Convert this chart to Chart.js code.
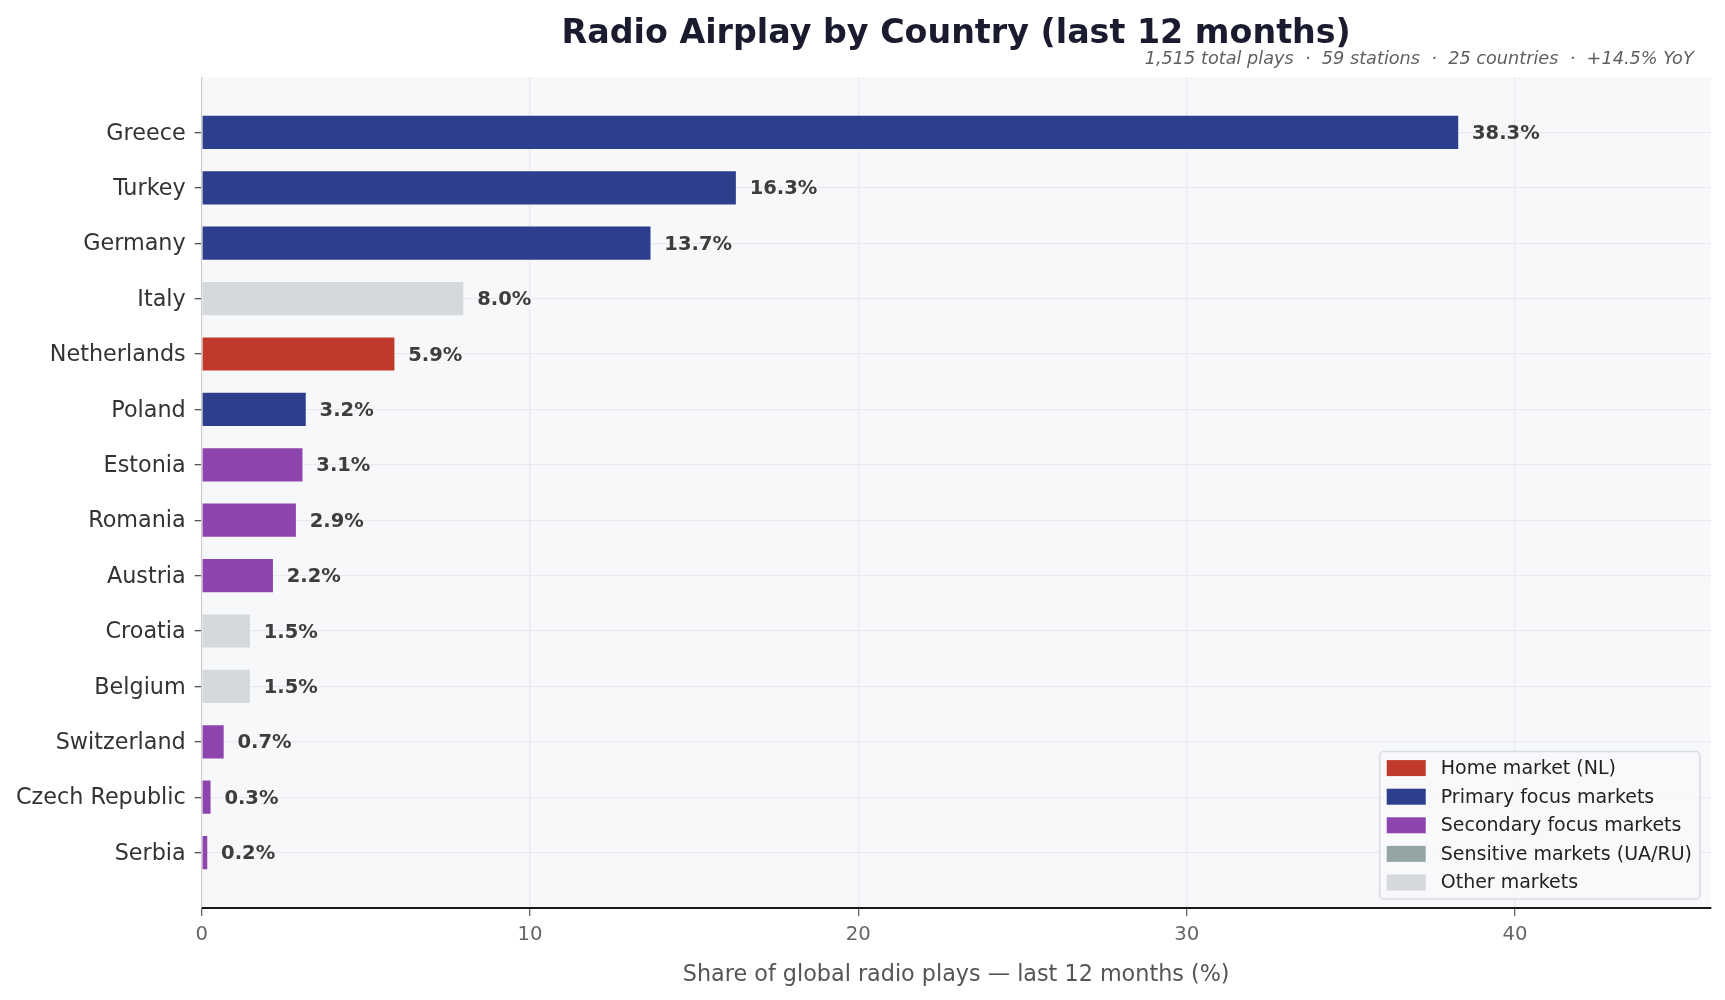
<!DOCTYPE html>
<html><head><meta charset="utf-8">
<script src="https://cdn.jsdelivr.net/npm/chart.js@4.4.1/dist/chart.umd.min.js"></script>
<style>html,body{margin:0;padding:0;background:#fff}#wrap{width:1725px;height:1000px}</style>
</head><body><div id="wrap"><canvas id="c" width="1725" height="1000"></canvas></div>
<script>
// ---- data ----
const countries = ['Greece','Turkey','Germany','Italy','Netherlands','Poland','Estonia','Romania','Austria','Croatia','Belgium','Switzerland','Czech Republic','Serbia'];
const shares = [38.3, 16.3, 13.7, 8.0, 5.9, 3.2, 3.1, 2.9, 2.2, 1.5, 1.5, 0.7, 0.3, 0.2];
const marketGroups = ['primary','primary','primary','other','home','primary','secondary','secondary','secondary','other','other','secondary','secondary','secondary'];
const legendGroups = ['home','primary','secondary','sensitive','other'];
const legendLabels = ['Home market (NL)','Primary focus markets','Secondary focus markets','Sensitive markets (UA/RU)','Other markets'];
const xTicks = [0, 10, 20, 30, 40];
const titleText = 'Radio Airplay by Country (last 12 months)';
const subtitleText = '1,515 total plays  \u00b7  59 stations  \u00b7  25 countries  \u00b7  +14.5% YoY';
const xTitle = 'Share of global radio plays \u2014 last 12 months (%)';

// ---- style ----
const groupColors = {home:'#c0392b', primary:'#2c3e8c', secondary:'#8e44ad', sensitive:'#95a5a6', other:'#d5d8dc'};
const FONT = "'DejaVu Sans', sans-serif";
const xMax = Math.max(...shares) * 1.2;

const bgPlugin = {
  id:'bg',
  beforeDraw(chart){
    const {ctx, chartArea:a} = chart;
    ctx.save();
    ctx.fillStyle = '#ffffff';
    ctx.fillRect(0,0,chart.width,chart.height);
    ctx.fillStyle = '#f7f8fa';
    ctx.fillRect(a.left, a.top, a.right-a.left, a.bottom-a.top);
    ctx.restore();
  }
};

const labelPlugin = {
  id:'vlabels',
  afterDatasetsDraw(chart){
    const {ctx} = chart;
    const meta = chart.getDatasetMeta(0);
    ctx.save();
    ctx.font = "bold 19.5px " + FONT;
    ctx.fillStyle = '#3d3d3d';
    ctx.textAlign = 'left';
    ctx.textBaseline = 'middle';
    meta.data.forEach((bar, i) => {
      const x = chart.scales.x.getPixelForValue(shares[i] + xMax*0.0085);
      ctx.fillText(shares[i].toFixed(1) + '%', x, bar.y + 1.5);
    });
    ctx.restore();
  }
};

const titlePlugin = {
  id:'titles',
  afterDraw(chart){
    const {ctx, chartArea:a} = chart;
    ctx.save();
    ctx.textBaseline = 'alphabetic';
    ctx.font = "bold 33.3px " + FONT;
    ctx.fillStyle = '#1b1b2f';
    ctx.textAlign = 'center';
    ctx.fillText(titleText, (a.left+a.right)/2, 42.7);
    ctx.font = "italic 17.7px " + FONT;
    ctx.fillStyle = '#5f5f5f';
    ctx.textAlign = 'right';
    ctx.fillText(subtitleText, a.right - 17, 64);
    ctx.restore();
  }
};

const legendPlugin = {
  id:'customLegend',
  afterDraw(chart){
    const {ctx, chartArea:a} = chart;
    ctx.save();
    ctx.font = "19px " + FONT;
    const maxW = Math.max(...legendLabels.map(t => ctx.measureText(t).width));
    const rowH = 28.6, padV = 16.5;
    const w = 61 + maxW + 8;
    const h = padV*2 + rowH*(legendLabels.length-1);
    const right = a.right - 10.7, bottom = a.bottom - 9;
    const left = right - w, top = bottom - h;
    ctx.beginPath();
    ctx.roundRect(left, top, w, h, 4);
    ctx.fillStyle = 'rgba(248,249,251,0.92)';
    ctx.fill();
    ctx.lineWidth = 1.5;
    ctx.strokeStyle = '#d8dbe0';
    ctx.stroke();
    ctx.textBaseline = 'middle';
    ctx.textAlign = 'left';
    legendLabels.forEach((t, i) => {
      const cy = top + padV + rowH*i;
      ctx.fillStyle = groupColors[legendGroups[i]];
      ctx.fillRect(left + 7, cy - 8, 39, 16);
      ctx.fillStyle = '#222222';
      ctx.fillText(t, left + 61, cy + 1);
    });
    ctx.restore();
  }
};

new Chart(document.getElementById('c'), {
  type:'bar',
  data:{
    datasets:[{
      data: shares.map((v,i) => ({x:v, y:i})),
      backgroundColor: marketGroups.map(g => groupColors[g]),
      borderColor: 'rgba(255,255,255,0.22)',
      borderWidth: 1,
      barPercentage: 0.635,
      categoryPercentage: 1
    }]
  },
  options:{
    indexAxis:'y',
    responsive:false,
    devicePixelRatio:1,
    animation:false,
    layout:{padding:{top:77, right:14.3, left:0, bottom:0}},
    plugins:{legend:{display:false}, tooltip:{enabled:false}, title:{display:false}},
    scales:{
      x:{
        type:'linear', position:'bottom', min:0, max:xMax, offset:false,
        afterBuildTicks: s => { s.ticks = xTicks.map(v => ({value:v})); },
        afterFit: s => { s.height = 92; },
        grid:{color:'#e8eaef', lineWidth:1.3, tickLength:8, tickColor:'#666666', tickWidth:1.3, offset:false},
        border:{color:'#1a1a1a', width:2},
        ticks:{font:{family:FONT, size:19.7}, color:'#666666', padding:7, maxRotation:0, autoSkip:false},
        title:{display:true, text:xTitle, font:{family:FONT, size:22.3}, color:'#555555', padding:{top:11.5, bottom:11.5}}
      },
      y:{
        type:'linear', position:'left', reverse:true, min:-1, max:countries.length, offset:false,
        afterBuildTicks: s => { s.ticks = countries.map((_,i) => ({value:i})); },
        afterFit: s => { s.width = 201.7; },
        grid:{color:'#e8eaef', lineWidth:1.3, tickLength:7, tickColor:'#555555', tickWidth:1.3, offset:false},
        border:{color:'#cccccc', width:1},
        ticks:{font:{family:FONT, size:22.3}, color:'#333333', padding:9, autoSkip:false, labelOffset:1.5,
          callback: v => (countries[v] !== undefined ? countries[v] : '')}
      }
    }
  },
  plugins:[bgPlugin, labelPlugin, legendPlugin, titlePlugin]
});
</script>
</body></html>
